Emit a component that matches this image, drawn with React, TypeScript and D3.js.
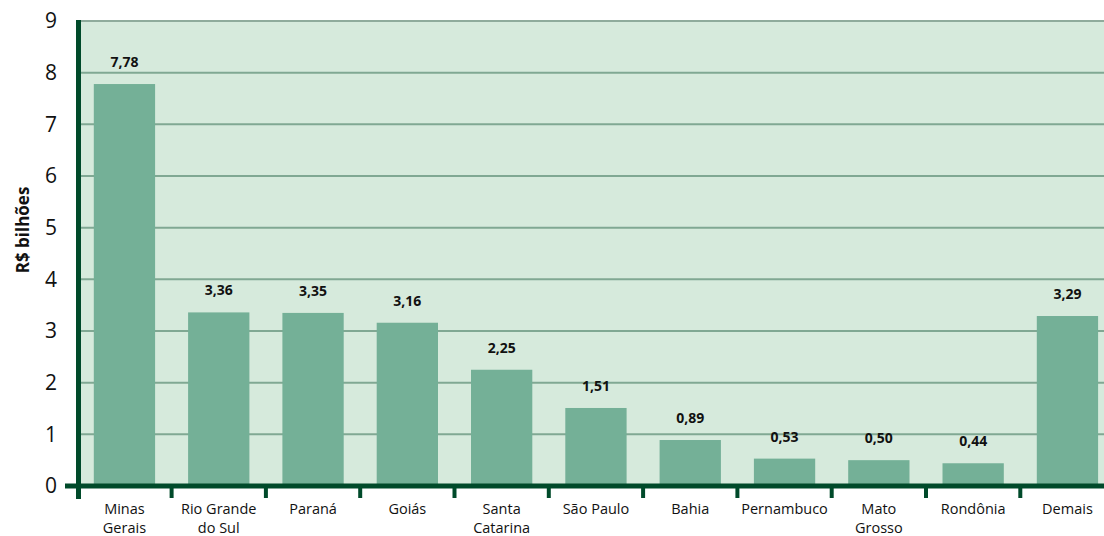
import React from "react";
import * as d3 from "d3";

const categories: string[][] = [
  ["Minas", "Gerais"],
  ["Rio Grande", "do Sul"],
  ["Paraná"],
  ["Goiás"],
  ["Santa", "Catarina"],
  ["São Paulo"],
  ["Bahia"],
  ["Pernambuco"],
  ["Mato", "Grosso"],
  ["Rondônia"],
  ["Demais"],
];
const values: number[] = [7.78, 3.36, 3.35, 3.16, 2.25, 1.51, 0.89, 0.53, 0.5, 0.44, 3.29];
const yTicks: number[] = [0, 1, 2, 3, 4, 5, 6, 7, 8, 9];
const yLabel = "R$ bilhões";

const W = 1104;
const H = 536;
const FONT = "'Open Sans', 'DejaVu Sans', sans-serif";

export default function App() {
  const ids = categories.map((_, i) => String(i));
  const x = d3.scaleBand<string>().domain(ids).range([77.3, 77.3 + 94.3 * 11]).paddingInner(0.35).paddingOuter(0.175);
  const y = d3.scaleLinear().domain([0, 9]).range([486, 21]);
  const fmt = (v: number) => d3.format(".2f")(v).replace(".", ",");
  const step = x.step();
  const boundaries = ids.slice(1).map((id) => (x(id) as number) - step * x.paddingInner() / 2);
  return (
    <svg width={W} height={H} style={{ position: "absolute", left: 0, top: 0 }}>
      <rect x={0} y={0} width={W} height={H} fill="#ffffff" />
      <rect x={78} y={y(9)} width={W - 78} height={y(0) - y(9)} fill="#d6eadc" />
      {yTicks.filter((t) => t > 0).map((t) => (
        <line key={t} x1={78} x2={W} y1={y(t)} y2={y(t)} stroke={t === 9 ? "#8fab9c" : "#80a893"} strokeWidth={2} />
      ))}
      {values.map((v, i) => (
        <rect key={i} x={x(ids[i])} y={y(v)} width={x.bandwidth()} height={y(0) - y(v)} fill="#74b097" />
      ))}
      {values.map((v, i) => (
        <text key={"v" + i} x={(x(ids[i]) as number) + x.bandwidth() / 2} y={y(v) - 17} textAnchor="middle"
          fontFamily={FONT} fontWeight="bold" fontSize={14} fill="#111">{fmt(v)}</text>
      ))}
      {/* axes */}
      <line x1={78.5} x2={78.5} y1={y(9) - 1} y2={499} stroke="#004a2a" strokeWidth={5} />
      <line x1={65} x2={W} y1={486} y2={486} stroke="#004a2a" strokeWidth={5} />
      {boundaries.map((b, i) => (
        <line key={"t" + i} x1={b} x2={b} y1={486} y2={498} stroke="#004a2a" strokeWidth={4} />
      ))}
      {yTicks.map((t) => (
        <text key={"y" + t} x={57} y={y(t)} dy="0.35em" textAnchor="end" fontFamily={FONT} fontSize={21} fill="#111">{t}</text>
      ))}
      <text transform={`translate(29,230) rotate(-90)`} textAnchor="middle" fontFamily={FONT} fontWeight="bold" fontSize={17} fill="#111">{yLabel}</text>
      {categories.map((lines, i) =>
        lines.map((l, j) => (
          <text key={"c" + i + "_" + j} x={(x(ids[i]) as number) + x.bandwidth() / 2} y={514 + j * 19}
            textAnchor="middle" fontFamily={FONT} fontSize={14.5} fill="#111">{l}</text>
        ))
      )}
    </svg>
  );
}
